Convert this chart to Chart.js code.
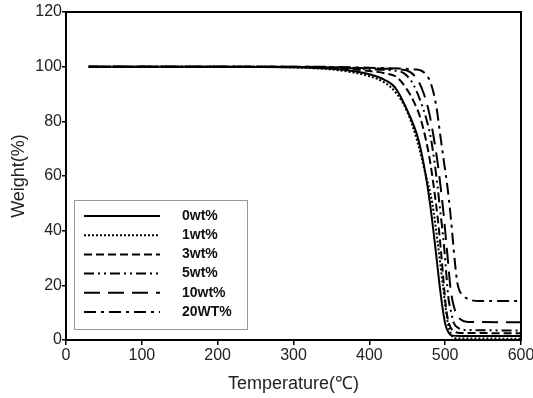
<!DOCTYPE html>
<html>
<head>
<meta charset="utf-8">
<script src="https://cdn.jsdelivr.net/npm/chart.js@4/dist/chart.umd.min.js"></script>
<style>
  html, body { margin: 0; padding: 0; background: #fff; }
  #wrap { width: 533px; height: 398px; }
</style>
</head>
<body>
<div id="wrap"><canvas id="tga"></canvas></div>
<script>
// TGA curves
const labels = ['0wt%', '1wt%', '3wt%', '5wt%', '10wt%', '20WT%'];

const temp0 = [30, 100, 200, 300, 350, 380, 400, 420, 435, 450, 464, 472, 480, 487, 494, 500, 505, 510, 520, 600];
const wt0   = [100, 100, 100, 99.8, 99.2, 98.3, 97.2, 95.2, 92, 84, 74, 64, 50, 34, 17, 6, 2.5, 1.6, 1.5, 1.5];

const temp1 = [30, 100, 200, 300, 350, 380, 400, 420, 435, 450, 464, 472, 483, 490, 497, 503, 508, 515, 600];
const wt1   = [100, 100, 100, 99.7, 99, 97.8, 96.5, 94.2, 90.5, 83.5, 72, 63, 50, 36, 20, 7, 2, 0.6, 0.5];

const temp3 = [30, 100, 200, 300, 350, 380, 400, 420, 437, 450, 459, 467, 474, 480, 485, 490, 494, 498, 501, 505, 510, 520, 600];
const wt3   = [100, 100, 100, 99.9, 99.6, 99, 98.4, 97.6, 96, 91.5, 87, 81.5, 74, 65.5, 56, 45, 34, 21, 12, 6, 3.5, 2.6, 2.5];

const temp5 = [30, 100, 200, 300, 350, 400, 430, 445, 458, 468, 475, 481, 486, 490, 494, 498, 501, 504, 508, 511, 517, 525, 600];
const wt5   = [100, 100, 100, 99.9, 99.7, 99.1, 98.6, 97.7, 93.5, 87, 81, 74, 65, 56, 46, 36, 26, 16, 10, 6.5, 4.5, 3.7, 3.5];

const temp10 = [30, 100, 200, 300, 350, 400, 440, 454, 464, 472, 479, 485, 490, 494, 498, 501, 504, 507, 510, 514, 520, 530, 600];
const wt10   = [100, 100, 100, 100, 99.8, 99.4, 99, 98, 95, 90, 83, 74, 65, 56, 46, 37, 28, 19, 14, 10, 7.6, 6.6, 6.5];

const temp20 = [30, 100, 200, 300, 350, 400, 440, 460, 468, 475, 481, 488, 494, 499, 503, 507, 510, 513, 516, 519, 523, 528, 534, 545, 600];
const wt20   = [100, 100, 100, 100, 99.9, 99.6, 99.3, 99, 98.6, 97, 94, 86, 74, 64, 56, 46, 37, 28, 21, 18, 16.5, 15.3, 14.6, 14.3, 14.3];

const xTicks = [0, 100, 200, 300, 400, 500, 600];
const yTicks = [0, 20, 40, 60, 80, 100, 120];

const temps = [temp0, temp1, temp3, temp5, temp10, temp20];
const weights = [wt0, wt1, wt3, wt5, wt10, wt20];
const dashes = [[], [2, 2], [8, 4], [10, 4, 2, 4, 2, 4], [16, 8], [12, 5, 3, 5]];

const toPoints = (xs, ys) => xs.map((x, i) => ({ x: x, y: ys[i] }));

const datasets = labels.map((name, i) => ({
    label: name,
    data: toPoints(temps[i], weights[i]),
    borderColor: '#000',
    borderWidth: 2,
    borderDash: dashes[i],
    pointRadius: 0,
    fill: false,
    cubicInterpolationMode: 'monotone'
}));

// plot frame on all four sides
const frame = {
    id: 'frame',
    afterDatasetsDraw(chart) {
        const { ctx, chartArea: a } = chart;
        ctx.save();
        ctx.strokeStyle = '#000';
        ctx.lineWidth = 2;
        ctx.strokeRect(a.left, a.top, a.right - a.left, a.bottom - a.top);
        ctx.restore();
    }
};

// boxed legend in the lower left, line samples use each dataset's dash
const boxLegend = {
    id: 'boxLegend',
    afterDraw(chart) {
        const ctx = chart.ctx;
        const a = chart.chartArea;
        const x0 = a.left + 8, y0 = 200, w = 173, h = 129;
        ctx.save();
        ctx.fillStyle = '#fff';
        ctx.fillRect(x0, y0, w, h);
        ctx.strokeStyle = '#999';
        ctx.lineWidth = 1;
        ctx.strokeRect(x0 + 0.5, y0 + 0.5, w, h);
        ctx.font = 'bold 14px "Liberation Sans", Arial, sans-serif';
        ctx.textBaseline = 'middle';
        ctx.fillStyle = '#111';
        chart.data.datasets.forEach((ds, i) => {
            const y = y0 + 16 + i * 19.2;
            ctx.beginPath();
            ctx.setLineDash(ds.borderDash);
            ctx.lineWidth = 2;
            ctx.strokeStyle = '#000';
            ctx.moveTo(x0 + 10, y);
            ctx.lineTo(x0 + 86, y);
            ctx.stroke();
            ctx.setLineDash([]);
            ctx.fillText(ds.label, x0 + 108, y);
        });
        ctx.restore();
    }
};

const tickFont = { family: '"Liberation Sans", Arial, sans-serif', size: 16 };
const titleFont = { family: '"Liberation Sans", Arial, sans-serif', size: 18 };

new Chart(document.getElementById('tga'), {
    type: 'line',
    data: { datasets: datasets },
    options: {
        responsive: true,
        maintainAspectRatio: false,
        animation: false,
        layout: { padding: { top: 12, right: 0, left: 0, bottom: 0 } },
        plugins: {
            legend: { display: false },
            tooltip: { enabled: false }
        },
        scales: {
            x: {
                type: 'linear',
                min: 0,
                max: 600,
                afterBuildTicks: s => { s.ticks = xTicks.map(v => ({ value: v })); },
                afterFit: s => { s.height = 58; s.paddingRight = 12; },
                ticks: { color: '#222', font: tickFont, padding: 1, maxRotation: 0 },
                grid: { drawOnChartArea: false, drawTicks: true, tickLength: 5, color: '#000', lineWidth: 1.5 },
                border: { color: '#000', width: 2 },
                title: { display: true, text: 'Temperature(℃)', color: '#222', font: titleFont, padding: { top: 4, bottom: 3 } }
            },
            y: {
                min: 0,
                max: 120,
                afterBuildTicks: s => { s.ticks = yTicks.map(v => ({ value: v })); },
                afterFit: s => { s.width = 66; },
                ticks: { color: '#222', font: tickFont, padding: 0 },
                grid: { drawOnChartArea: false, drawTicks: true, tickLength: 4, color: '#000', lineWidth: 1.5 },
                border: { color: '#000', width: 2 },
                title: { display: true, text: 'Weight(%)', color: '#222', font: titleFont, padding: { top: 8, bottom: 0 } }
            }
        }
    },
    plugins: [frame, boxLegend]
});
</script>
</body>
</html>
